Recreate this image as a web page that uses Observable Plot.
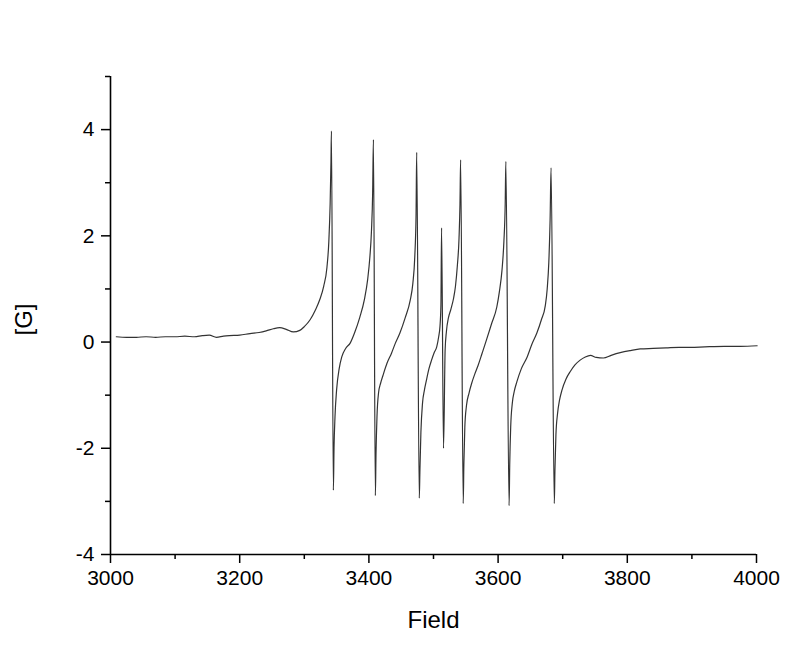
<!DOCTYPE html>
<html>
<head>
<meta charset="utf-8">
<script src="https://cdn.jsdelivr.net/npm/d3@7"></script>
<script src="https://cdn.jsdelivr.net/npm/@observablehq/plot@0.6"></script>
<style>
  html, body { margin: 0; padding: 0; background: #fff; }
  #chart { width: 800px; height: 665px; }
</style>
</head>
<body>
<div id="chart"></div>
<script>
const field = [3009, 3025, 3040, 3055, 3070, 3085, 3100, 3115, 3130, 3142, 3153, 3164, 3175, 3184, 3200, 3216, 3230, 3241, 3252, 3262, 3272, 3283, 3293, 3300, 3309, 3317, 3324, 3330, 3335, 3338, 3340, 3341.3, 3342,
  3345, 3346, 3347.5, 3350, 3354, 3358, 3364, 3371, 3378, 3386, 3393, 3398, 3401.5, 3404, 3405.8, 3407,
  3410, 3411, 3412.5, 3415, 3418, 3422, 3428, 3435, 3441, 3448, 3456, 3464, 3468, 3471, 3473, 3474,
  3478, 3479, 3480.5, 3483, 3486, 3489, 3493, 3497, 3501, 3505, 3508, 3510, 3511.5, 3512.5,
  3515.5, 3518, 3520, 3523, 3527, 3531, 3534, 3537, 3539.5, 3541, 3542,
  3546, 3547, 3548.5, 3551, 3555, 3559, 3564, 3569, 3575, 3582, 3590, 3598, 3602, 3606, 3609, 3611, 3612,
  3617, 3618, 3619.5, 3622, 3625, 3629, 3636, 3645, 3652, 3660, 3667, 3673, 3676, 3678.5, 3680.5, 3682,
  3687, 3688, 3689.5, 3692, 3695, 3699, 3705, 3712, 3719, 3727, 3735, 3743, 3752, 3763, 3775, 3789, 3805, 3820, 3840, 3860, 3880, 3898, 3920, 3950, 3975, 4001];
const signal = [0.10, 0.09, 0.09, 0.10, 0.09, 0.10, 0.10, 0.11, 0.10, 0.12, 0.13, 0.09, 0.11, 0.12, 0.13, 0.16, 0.18, 0.21, 0.25, 0.27, 0.24, 0.19, 0.22, 0.29, 0.42, 0.6, 0.8, 1.05, 1.4, 1.9, 2.6, 3.4, 3.97,
  -2.79, -2.0, -1.41, -0.9, -0.5, -0.28, -0.12, -0.02, 0.18, 0.47, 0.8, 1.17, 1.6, 2.1, 2.8, 3.81,
  -2.89, -2.1, -1.41, -0.95, -0.78, -0.62, -0.4, -0.21, -0.02, 0.17, 0.45, 0.79, 1.1, 1.6, 2.4, 3.57,
  -2.94, -2.4, -1.7, -1.15, -0.9, -0.72, -0.5, -0.34, -0.2, -0.09, 0.1, 0.29, 0.7, 2.15,
  -2.0, -0.15, 0.2, 0.45, 0.62, 0.82, 1.05, 1.45, 1.95, 2.6, 3.43,
  -3.04, -2.3, -1.6, -1.2, -0.96, -0.78, -0.6, -0.44, -0.22, 0.04, 0.35, 0.66, 0.95, 1.35, 1.9, 2.6, 3.40,
  -3.08, -2.3, -1.6, -1.15, -0.93, -0.75, -0.5, -0.28, -0.05, 0.17, 0.42, 0.68, 1.0, 1.5, 2.3, 3.28,
  -3.04, -2.4, -1.75, -1.35, -1.1, -0.9, -0.7, -0.55, -0.43, -0.34, -0.28, -0.25, -0.29, -0.30, -0.25, -0.20, -0.16, -0.13, -0.12, -0.11, -0.10, -0.10, -0.09, -0.08, -0.08, -0.07];

const xMajorTicks = [3000, 3200, 3400, 3600, 3800, 4000];
const xMinorTicks = [3100, 3300, 3500, 3700, 3900];
const yMajorTicks = [-4, -2, 0, 2, 4];
const yMinorTicks = [-3, -1, 1, 3, 5];
const xLabel = "Field";
const yLabel = "[G]";

const data = field.map((f, i) => ({field: f, value: signal[i]}));

const font = "'Liberation Sans', Arial, Helvetica, sans-serif";

const chart = Plot.plot({
  width: 800,
  height: 665,
  marginLeft: 110,
  marginRight: 44,
  marginTop: 76,
  marginBottom: 111,
  style: {fontFamily: font, fontSize: "21px", color: "#000", background: "#fff"},
  x: {domain: [3000, 4000]},
  y: {domain: [-4, 5]},
  marks: [
    Plot.axisX({ticks: xMajorTicks, tickSize: 9, tickPadding: 7, tickFormat: d => String(d), label: null, fontSize: 21, strokeWidth: 1.5}),
    Plot.axisX({ticks: xMinorTicks, tickSize: 5, tickFormat: () => "", label: null, strokeWidth: 1.5}),
    Plot.axisY({ticks: yMajorTicks, tickSize: 9, tickPadding: 7, tickFormat: d => String(d), label: null, fontSize: 21, strokeWidth: 1.5}),
    Plot.axisY({ticks: yMinorTicks, tickSize: 5, tickFormat: () => "", label: null, strokeWidth: 1.5}),
    Plot.ruleX([3000], {stroke: "#000", strokeWidth: 1.6}),
    Plot.ruleY([-4], {stroke: "#000", strokeWidth: 1.6}),
    Plot.line(data, {x: "field", y: "value", curve: "monotone-x", stroke: "#333", strokeWidth: 1.2}),
    Plot.text([xLabel], {frameAnchor: "bottom", dy: 66, text: d => d, fontSize: 24, lineAnchor: "middle", fill: "#000"}),
    Plot.text([yLabel], {frameAnchor: "left", dx: -86, dy: 20, text: d => d, rotate: -90, fontSize: 24, lineAnchor: "middle", fill: "#000"})
  ]
});
document.getElementById("chart").appendChild(chart);
</script>
</body>
</html>
